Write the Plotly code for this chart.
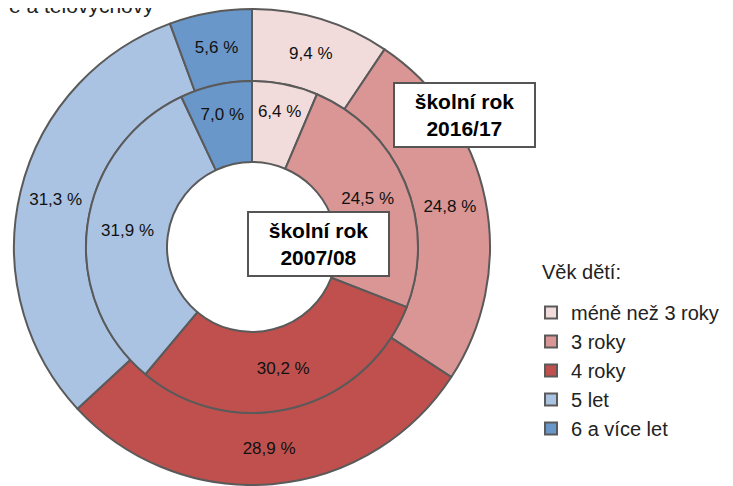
import plotly.graph_objects as go

AGE_GROUPS = ["méně než 3 roky", "3 roky", "4 roky", "5 let", "6 a více let"]
SHARE_2016 = [9.4, 24.8, 28.9, 31.3, 5.6]
SHARE_2007 = [6.4, 24.5, 30.2, 31.9, 7.0]
COLORS = ["#F2DCDB", "#D99694", "#C0504D", "#AAC3E3", "#6A97C9"]

FONT = "Liberation Sans, Arial, sans-serif"
EDGE = dict(color="#5a5a5a", width=2)


def pct(values):
    return [f"{v:.1f}".replace(".", ",") + " %" for v in values]


fig = go.Figure()

# outer ring: 2016/17
fig.add_trace(
    go.Pie(
        labels=AGE_GROUPS,
        values=SHARE_2016,
        text=pct(SHARE_2016),
        textinfo="text",
        textposition="inside",
        insidetextorientation="horizontal",
        hole=0.697,
        sort=False,
        direction="clockwise",
        rotation=0,
        marker=dict(colors=COLORS, line=EDGE),
        domain=dict(x=[0.00828, 0.66483], y=[0.00209, 0.99791]),
        textfont=dict(family=FONT, size=17, color="#111"),
        hoverinfo="label+text",
    )
)

# inner ring: 2007/08
fig.add_trace(
    go.Pie(
        labels=AGE_GROUPS,
        values=SHARE_2007,
        text=pct(SHARE_2007),
        textinfo="text",
        textposition="inside",
        insidetextorientation="horizontal",
        hole=0.512,
        sort=False,
        direction="clockwise",
        rotation=0,
        marker=dict(colors=COLORS, line=EDGE),
        domain=dict(x=[0.10759, 0.56552], y=[0.15272, 0.84728]),
        textfont=dict(family=FONT, size=17, color="#111"),
        showlegend=False,
        hoverinfo="label+text",
    )
)

box = dict(
    showarrow=False,
    xref="paper",
    yref="paper",
    xanchor="center",
    yanchor="middle",
    bgcolor="white",
    bordercolor="#555",
    borderwidth=2,
    borderpad=2,
    width=135,
    height=58,
    font=dict(family=FONT, size=21, color="#000"),
)

fig.update_layout(
    width=725,
    height=478,
    margin=dict(l=0, r=0, t=0, b=0),
    paper_bgcolor="white",
    plot_bgcolor="white",
    font=dict(family=FONT, size=20, color="#222"),
    uniformtext=dict(minsize=17, mode="show"),
    legend=dict(
        x=0.7214,
        xanchor="left",
        y=0.4038,
        yanchor="top",
        font=dict(size=20),
        bgcolor="rgba(0,0,0,0)",
        tracegroupgap=0,
    ),
    annotations=[
        dict(text="<b>školní rok<br>2016/17</b>", x=0.6297, y=0.7762, **box),
        dict(text="<b>školní rok<br>2007/08</b>", x=0.4283, y=0.5063, **box),
        dict(
            text="Věk dětí:",
            x=0.7338,
            y=0.4477,
            xanchor="left",
            yanchor="middle",
            showarrow=False,
            xref="paper",
            yref="paper",
            font=dict(family=FONT, size=20, color="#222"),
        ),
        dict(
            text="e a tělovýchovy",
            x=0,
            y=1,
            xanchor="left",
            yanchor="bottom",
            yshift=-11,
            xshift=-1,
            showarrow=False,
            xref="paper",
            yref="paper",
            font=dict(family=FONT, size=21, color="#222"),
        ),
    ],
)

fig.write_html("out.html")
